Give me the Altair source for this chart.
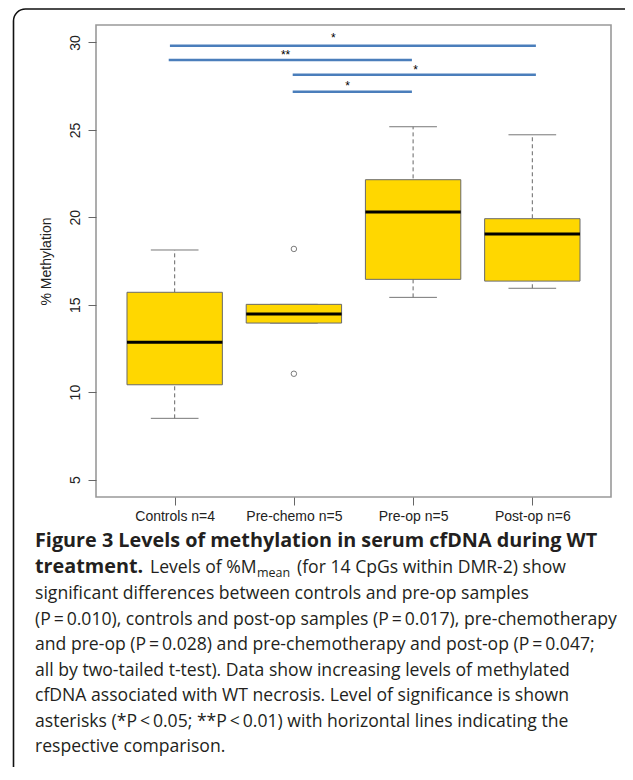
import json
import altair as alt
import pandas as pd

# ---------------- data ----------------
categories = ["Controls n=4", "Pre-chemo n=5", "Pre-op n=5", "Post-op n=6"]
positions = [1, 2, 3, 4]
whisker_low = [8.50, 13.95, 15.42, 15.94]
q1 = [10.42, 13.95, 16.45, 16.35]
median = [12.85, 14.47, 20.30, 19.04]
q3 = [15.71, 15.02, 22.15, 19.92]
whisker_high = [18.13, 15.02, 25.18, 24.72]

outlier_pos = [2, 2]
outlier_val = [18.19, 11.05]

comp_start = [0.96, 0.95, 1.99, 1.99]
comp_end = [4.03, 2.99, 4.03, 2.99]
comp_level = [29.82, 29.00, 28.16, 27.18]
star_text = ["*", "**", "*", "*"]
star_x = [2.33, 1.93, 3.02, 2.45]
star_y = [30.24, 29.30, 28.44, 27.49]

y_ticks = [5, 10, 15, 20, 25, 30]

caption_title = "Figure 3 Levels of methylation in serum cfDNA during WT"
caption_line1 = ["treatment.", "Levels of %M", "mean", "(for 14 CpGs within DMR-2) show"]
caption_body = [
    "significant differences between controls and pre-op samples",
    "(P\u2009=\u20090.010), controls and post-op samples (P\u2009=\u20090.017), pre-chemotherapy",
    "and pre-op (P\u2009=\u20090.028) and pre-chemotherapy and post-op (P\u2009=\u20090.047;",
    "all by two-tailed t-test). Data show increasing levels of methylated",
    "cfDNA associated with WT necrosis. Level of significance is shown",
    "asterisks (*P\u2009<\u20090.05; **P\u2009<\u20090.01) with horizontal lines indicating the",
    "respective comparison.",
]

# ---------------- tables ----------------
boxes = pd.DataFrame({
    "category": categories, "pos": positions,
    "lo": whisker_low, "q1": q1, "med": median, "q3": q3, "hi": whisker_high,
})
outliers = pd.DataFrame({"pos": outlier_pos, "val": outlier_val})
comps = pd.DataFrame({"x1": comp_start, "x2": comp_end, "lvl": comp_level})
stars = pd.DataFrame({"sx": star_x, "sy": star_y, "txt": star_text})

W, H = 515, 472
xscale = alt.Scale(domain=[0.34, 4.66], nice=False, zero=False)
yscale = alt.Scale(domain=[4, 31], nice=False, zero=False)

label_expr = json.dumps(categories) + "[datum.value - 1]"

x_axis = alt.Axis(values=positions, labelExpr=label_expr, title=None, grid=False,
                  domain=False, tickSize=8, tickColor="#666", tickWidth=1,
                  labelFont="Liberation Sans", labelFontSize=14, labelColor="#222",
                  labelPadding=4)
y_axis = alt.Axis(values=y_ticks, title="% Methylation", grid=False, domain=False,
                  tickSize=8, tickColor="#666", tickWidth=1,
                  labelFont="Liberation Sans", labelFontSize=14, labelColor="#222",
                  labelAngle=270, labelAlign="center", labelBaseline="alphabetic",
                  labelPadding=9,
                  titleFont="Liberation Sans", titleFontSize=14, titleFontWeight="normal",
                  titleColor="#222", titleAngle=270, titleBaseline="middle",
                  titleAlign="center", titleX=-50, titleY=H / 2)


def X(field):
    return alt.X(field, scale=xscale, axis=x_axis)


def Y(field):
    return alt.Y(field, scale=yscale, axis=y_axis)


base = alt.Chart(boxes)
edges_box = dict(a="datum.pos - 0.4", b="datum.pos + 0.4")
edges_cap = dict(a="datum.pos - 0.2", b="datum.pos + 0.2")

whisk = base.mark_rule(color="#666", strokeDash=[4, 3], strokeWidth=1).encode(
    x=X("pos:Q"), y=Y("lo:Q"), y2="hi:Q")

caps_lo = base.transform_calculate(**edges_cap).mark_rule(color="#777", strokeWidth=1).encode(
    x=X("a:Q"), x2="b:Q", y=Y("lo:Q"))
caps_hi = base.transform_calculate(**edges_cap).mark_rule(color="#777", strokeWidth=1).encode(
    x=X("a:Q"), x2="b:Q", y=Y("hi:Q"))

box = base.transform_calculate(**edges_box).mark_rect(
    fill="#FFD700", stroke="#6a6a6a", strokeWidth=1).encode(
    x=X("a:Q"), x2="b:Q", y=Y("q1:Q"), y2="q3:Q")

med = base.transform_calculate(**edges_box).mark_rule(color="black", strokeWidth=3).encode(
    x=X("a:Q"), x2="b:Q", y=Y("med:Q"))

outl = alt.Chart(outliers).mark_point(shape="circle", filled=False, color="#444",
                                      strokeWidth=1, size=30).encode(
    x=X("pos:Q"), y=Y("val:Q"))

comp_lines = alt.Chart(comps).mark_rule(color="#4A7EBB", strokeWidth=2.5).encode(
    x=X("x1:Q"), x2="x2:Q", y=Y("lvl:Q"))

star_marks = alt.Chart(stars).mark_text(font="Liberation Sans", fontSize=12,
                                         color="black", baseline="middle",
                                         align="center").encode(
    x=X("sx:Q"), y=Y("sy:Q"), text="txt:N")

one = alt.Data(values=[{}])

frame = alt.Chart(one).mark_rect(fillOpacity=0, stroke="#111", strokeWidth=1.6,
                                 cornerRadius=12).encode(
    x=alt.value(-82.5), x2=alt.value(600), y=alt.value(-16), y2=alt.value(820))

CAP_X = -61
INK = "#231f20"
BOLD = 19.8
REG = 17.6


def cap_text(txt, x, y, size, weight="normal"):
    return alt.Chart(one).mark_text(font="Open Sans", fontSize=size, fontWeight=weight,
                                    color=INK, align="left", baseline="alphabetic",
                                    lineHeight=25.5).encode(
        x=alt.value(x), y=alt.value(y), text=alt.value(txt))


L1 = 548
title_mark = cap_text(caption_title, CAP_X, 522, BOLD, "bold")
seg_bold = cap_text(caption_line1[0], CAP_X, L1, BOLD, "bold")
seg_reg1 = cap_text(caption_line1[1], CAP_X + 115, L1, REG)
seg_sub = cap_text(caption_line1[2], CAP_X + 222, L1 + 4, 12.5)
seg_reg2 = cap_text(caption_line1[3], CAP_X + 262, L1, REG)
body = cap_text(caption_body, CAP_X, 574, REG)

chart = alt.layer(
    whisk, caps_lo, caps_hi, box, med, outl, comp_lines, star_marks,
    frame, title_mark, seg_bold, seg_reg1, seg_sub, seg_reg2, body,
).properties(
    width=W, height=H,
    padding={"left": 88, "top": 17, "right": 14, "bottom": 270},
    autosize=alt.AutoSizeParams(type="none"),
    background="white",
).configure_view(
    stroke="#999", strokeWidth=1.6
).configure_axis(
    titleFont="Liberation Sans", titleFontSize=14, titleFontWeight="normal",
    labelFont="Liberation Sans", labelFontSize=14,
)

chart.save("out.html", embed_options={"renderer": "svg", "actions": False})
